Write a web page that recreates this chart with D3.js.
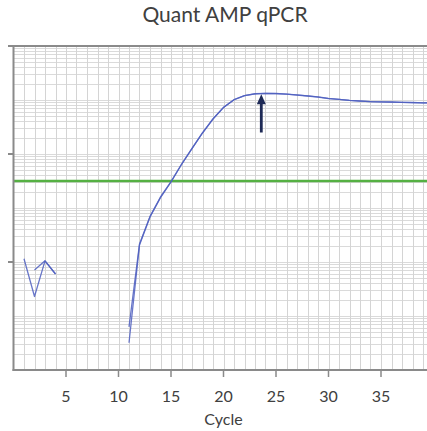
<!DOCTYPE html>
<html lang="en">
<head>
<meta charset="utf-8">
<script src="https://cdn.jsdelivr.net/npm/d3@7"></script>
<style>
  body { margin: 0; background: #fff; }
  text { font-family: Lato, "Open Sans", sans-serif; fill: #404040; }
</style>
</head>
<body>
<div id="chart"></div>
<script>
  // amplification data (fluorescence, log axis)
  const earlyCyclesA = [1, 2, 3, 4]
  const earlyValuesA = [115, 23, 105, 60]
  const earlyCyclesB = [2, 3, 4]
  const earlyValuesB = [71, 105, 60]

  const cycles = [11, 12, 13, 14, 15, 16, 17, 18, 19, 20, 21, 22, 23, 24, 25,
                  26, 27, 28, 29, 30, 31, 32, 33, 34, 35, 36, 37, 38, 39, 40]
  const repA = [3.2, 207, 681, 1560, 3030, 6390, 12600, 24500, 44500, 72600,
                101000, 120000, 130000, 133000, 132000, 129000, 124000, 119000,
                114000, 107000, 103000, 98700, 95800, 93700, 92600, 91800,
                90600, 89900, 88800, 87700]
  const repB = [6.3, 215, 700, 1600, 3080, 6450, 12700, 24700, 44800, 73000,
                101500, 120500, 130500, 133000, 131500, 128500, 123500, 118500,
                113500, 106500, 102500, 98400, 95500, 93500, 92400, 91600,
                90400, 89700, 88700, 87600]

  const threshold = 3160
  const arrowCycle = 23.6
  const arrowFrom = 25000
  const arrowTo = 128000

  const xTicks = [5, 10, 15, 20, 25, 30, 35]
  const yTicks = [1e2, 1e4, 1e6]

  const w = 427
  const h = 431
  const padLeft = 13.5
  const padTop = 46
  const padBottom = 370

  let svg = d3.select('#chart')
              .append('svg')
              .attr('width', w)
              .attr('height', h)

  let scaleX = d3.scaleLinear()
                 .domain([0, 40])
                 .range([padLeft, padLeft + 40 * 10.5])

  let scaleY = d3.scaleLog()
                 .domain([1, 1e6])
                 .range([padBottom, padTop])

  svg.append('clipPath')
     .attr('id', 'plot')
     .append('rect')
     .attr('x', padLeft)
     .attr('y', padTop)
     .attr('width', w - padLeft)
     .attr('height', padBottom - padTop)

  let plot = svg.append('g').attr('clip-path', 'url(#plot)')

  // log grid
  let hLines = []
  for (let d = 0; d < 6; d++) {
      for (let m = 2; m <= 10; m++) {
          hLines.push(m * Math.pow(10, d))
      }
  }
  plot.selectAll('line.h')
      .data(hLines)
      .enter()
      .append('line')
      .attr('class', 'h')
      .attr('x1', padLeft)
      .attr('x2', w)
      .attr('y1', function(d) { return Math.round(scaleY(d)) + 0.5 })
      .attr('y2', function(d) { return Math.round(scaleY(d)) + 0.5 })
      .attr('stroke', '#dadada')
      .attr('stroke-width', 1)

  plot.selectAll('line.v')
      .data(d3.range(1, 40))
      .enter()
      .append('line')
      .attr('class', 'v')
      .attr('x1', function(d) { return Math.round(scaleX(d)) + 0.5 })
      .attr('x2', function(d) { return Math.round(scaleX(d)) + 0.5 })
      .attr('y1', padTop)
      .attr('y2', padBottom)
      .attr('stroke', '#d4d4d4')
      .attr('stroke-width', 1)

  // threshold
  plot.append('line')
      .attr('x1', padLeft)
      .attr('x2', w)
      .attr('y1', scaleY(threshold))
      .attr('y2', scaleY(threshold))
      .attr('stroke', '#55b043')
      .attr('stroke-width', 2.5)

  let line = d3.line()
               .x(function(d) { return scaleX(d[0]) })
               .y(function(d) { return scaleY(d[1]) })

  let series = [
      d3.zip(earlyCyclesA, earlyValuesA),
      d3.zip(earlyCyclesB, earlyValuesB),
      d3.zip(cycles, repA),
      d3.zip(cycles, repB)
  ]

  plot.selectAll('path.amp')
      .data(series)
      .enter()
      .append('path')
      .attr('class', 'amp')
      .attr('d', line)
      .attr('fill', 'none')
      .attr('stroke', '#4f5fbf')
      .attr('stroke-opacity', 0.85)
      .attr('stroke-width', 1.3)
      .attr('stroke-linejoin', 'round')

  // arrow
  let ax = scaleX(arrowCycle)
  let ay = scaleY(arrowTo)
  plot.append('line')
      .attr('x1', ax)
      .attr('x2', ax)
      .attr('y1', scaleY(arrowFrom))
      .attr('y2', ay + 8)
      .attr('stroke', '#1e2a56')
      .attr('stroke-width', 2.8)
  plot.append('path')
      .attr('d', 'M' + ax + ',' + ay + 'L' + (ax - 4.5) + ',' + (ay + 10) +
                 'L' + (ax + 4.5) + ',' + (ay + 10) + 'Z')
      .attr('fill', '#1e2a56')

  // axes
  let axisColor = '#8a8a8a'
  svg.append('line')
     .attr('x1', 8).attr('x2', w)
     .attr('y1', padTop).attr('y2', padTop)
     .attr('stroke', axisColor).attr('stroke-width', 2)
  svg.append('line')
     .attr('x1', padLeft).attr('x2', padLeft)
     .attr('y1', padTop).attr('y2', padBottom + 1)
     .attr('stroke', axisColor).attr('stroke-width', 2)
  svg.append('line')
     .attr('x1', padLeft - 1).attr('x2', w)
     .attr('y1', padBottom).attr('y2', padBottom)
     .attr('stroke', axisColor).attr('stroke-width', 2)

  svg.selectAll('line.ytick')
     .data(yTicks)
     .enter()
     .append('line')
     .attr('class', 'ytick')
     .attr('x1', 8)
     .attr('x2', padLeft)
     .attr('y1', function(d) { return scaleY(d) })
     .attr('y2', function(d) { return scaleY(d) })
     .attr('stroke', axisColor)
     .attr('stroke-width', 2)

  svg.selectAll('line.xtick')
     .data(xTicks)
     .enter()
     .append('line')
     .attr('class', 'xtick')
     .attr('x1', function(d) { return scaleX(d) })
     .attr('x2', function(d) { return scaleX(d) })
     .attr('y1', padBottom)
     .attr('y2', padBottom + 7)
     .attr('stroke', axisColor)
     .attr('stroke-width', 1.5)

  svg.selectAll('text.xlab')
     .data(xTicks)
     .enter()
     .append('text')
     .attr('class', 'xlab')
     .attr('x', function(d) { return scaleX(d) })
     .attr('y', 402)
     .attr('text-anchor', 'middle')
     .attr('font-size', 16)
     .text(function(d) { return d })

  svg.append('text')
     .attr('x', scaleX(20))
     .attr('y', 425)
     .attr('text-anchor', 'middle')
     .attr('font-size', 16)
     .text('Cycle')

  svg.append('text')
     .attr('x', 225)
     .attr('y', 22)
     .attr('text-anchor', 'middle')
     .attr('font-size', 21)
     .text('Quant AMP qPCR')
</script>
</body>
</html>
